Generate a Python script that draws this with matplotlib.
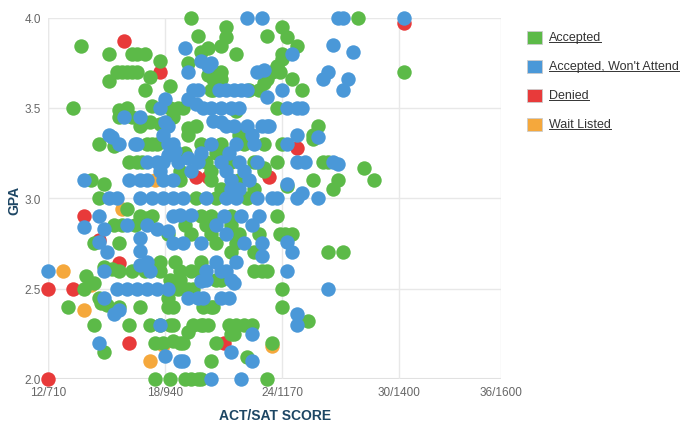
import matplotlib
matplotlib.use("Agg")
import matplotlib.pyplot as plt
from matplotlib.lines import Line2D
from matplotlib.patches import Rectangle

plt.rcParams['font.family'] = ['Liberation Sans', 'DejaVu Sans']

# ticks: ACT/SAT pairs, axis is linear in SAT
tick_sat = [710, 940, 1170, 1400, 1600]
tick_labels = ['12/710', '18/940', '24/1170', '30/1400', '36/1600']
gpa_ticks = [2.0, 2.5, 3.0, 3.5, 4.0]

legend_names = ['Accepted', "Accepted, Won't Attend", 'Denied', 'Wait Listed']

# (SAT, GPA)
accepted = [
    (990, 4.0), (1320, 4.0), (1060, 3.95), (1170, 3.95),
    (1005, 3.9), (1060, 3.89), (1140, 3.9), (1180, 3.89),
    (775, 3.84), (1050, 3.84), (1200, 3.84), (1025, 3.83), (1010, 3.81),
    (830, 3.8), (875, 3.8), (885, 3.8), (900, 3.8), (1080, 3.8), (1170, 3.8),
    (930, 3.76), (1170, 3.77), (985, 3.75),
    (845, 3.7), (855, 3.7), (865, 3.7), (875, 3.7), (885, 3.7), (1035, 3.7),
    (1050, 3.7), (1150, 3.7), (1165, 3.7), (1410, 3.7), (1160, 3.73),
    (910, 3.67), (1025, 3.68), (830, 3.65), (1050, 3.66), (1035, 3.66),
    (1140, 3.66), (1190, 3.66), (1135, 3.64), (950, 3.62),
    (900, 3.6), (1035, 3.6), (1030, 3.6), (1125, 3.6), (1210, 3.6), (1105, 3.6),
    (760, 3.5), (950, 3.5), (965, 3.5), (975, 3.5), (1160, 3.5), (915, 3.51),
    (850, 3.49), (865, 3.5), (1080, 3.48),
    (850, 3.45), (875, 3.45), (955, 3.45), (900, 3.42), (910, 3.42),
    (1240, 3.4), (985, 3.39), (1000, 3.4), (890, 3.4), (930, 3.41),
    (1230, 3.35), (985, 3.35), (1085, 3.35),
    (810, 3.3), (840, 3.29), (905, 3.3), (915, 3.3), (925, 3.3), (1170, 3.3),
    (1230, 3.33), (1010, 3.3), (1050, 3.3), (1095, 3.3), (1135, 3.3),
    (980, 3.25), (1040, 3.25),
    (870, 3.2), (885, 3.2), (895, 3.2), (1160, 3.2), (1250, 3.2), (1260, 3.2),
    (1330, 3.17), (1020, 3.2), (1115, 3.2), (1135, 3.17), (1070, 3.2),
    (970, 3.15), (1030, 3.15), (1135, 3.15),
    (795, 3.1), (820, 3.08), (1030, 3.1), (1230, 3.1), (1280, 3.1), (1350, 3.1),
    (1180, 3.07), (970, 3.1), (1085, 3.1),
    (1270, 3.05), (1050, 3.05), (1115, 3.05),
    (810, 3.0), (1000, 3.0), (1040, 3.0), (1100, 3.0), (865, 2.94),
    (890, 2.9), (905, 2.89), (915, 2.9), (1160, 2.9), (1010, 2.9), (1030, 2.9), (1070, 2.9),
    (840, 2.85), (855, 2.85), (880, 2.85), (980, 2.85), (1020, 2.85), (1070, 2.85),
    (1165, 2.8), (1175, 2.8), (1190, 2.8), (945, 2.8), (990, 2.8), (1030, 2.8),
    (1085, 2.8), (1125, 2.8),
    (800, 2.75), (850, 2.75), (1040, 2.75), (1080, 2.75),
    (1260, 2.7), (1290, 2.7), (1070, 2.7), (1115, 2.7),
    (835, 2.61), (820, 2.62), (930, 2.65), (960, 2.65), (1010, 2.65),
    (1115, 2.6), (1130, 2.6), (1140, 2.6), (850, 2.6), (875, 2.6), (900, 2.6),
    (930, 2.6), (970, 2.6), (990, 2.6), (1010, 2.6),
    (785, 2.57), (800, 2.53), (1040, 2.55), (1050, 2.55), (950, 2.55), (970, 2.55),
    (780, 2.5), (965, 2.5), (985, 2.5), (995, 2.5), (1170, 2.5),
    (810, 2.45), (815, 2.42), (825, 2.41), (945, 2.45), (890, 2.4),
    (750, 2.4), (1170, 2.4), (945, 2.4), (955, 2.4), (1015, 2.4), (1030, 2.4),
    (1035, 2.4), (850, 2.4),
    (800, 2.3), (870, 2.3), (910, 2.3), (930, 2.3), (950, 2.3), (955, 2.3),
    (995, 2.3), (1010, 2.3), (1015, 2.3), (1025, 2.3), (1065, 2.3), (1080, 2.3),
    (1095, 2.3), (1110, 2.3), (1220, 2.32),
    (1070, 2.25), (1075, 2.25), (985, 2.26),
    (920, 2.2), (935, 2.2), (970, 2.2), (975, 2.2), (955, 2.21), (1040, 2.2), (1150, 2.2),
    (820, 2.15), (1100, 2.12), (1030, 2.1),
    (920, 2.0), (950, 2.0), (980, 2.0), (990, 2.0), (1005, 2.0), (1140, 2.0), (1010, 2.0),
]

wont_attend = [
    (1100, 4.0), (1130, 4.0), (1280, 4.0), (1290, 4.0), (1410, 4.0),
    (1270, 3.85), (980, 3.83), (1310, 3.81), (1190, 3.8),
    (1010, 3.76), (1030, 3.75), (1025, 3.73),
    (985, 3.7), (1120, 3.7), (1135, 3.71), (1260, 3.7),
    (1250, 3.66), (1300, 3.66),
    (1170, 3.6), (1290, 3.6), (1060, 3.6), (1075, 3.6), (1090, 3.6), (1100, 3.6),
    (1005, 3.6), (1045, 3.6), (995, 3.6),
    (940, 3.55), (1140, 3.56), (985, 3.55),
    (930, 3.5), (1015, 3.5), (1030, 3.5), (1050, 3.5), (1070, 3.5), (1085, 3.5),
    (1180, 3.5), (1200, 3.5), (1210, 3.5), (1000, 3.52),
    (860, 3.45), (890, 3.45), (1035, 3.43), (1050, 3.42), (940, 3.42),
    (1060, 3.4), (1075, 3.4), (1100, 3.4), (1130, 3.4), (1140, 3.4), (1145, 3.4), (945, 3.4),
    (830, 3.35), (835, 3.34), (1200, 3.35), (1240, 3.34), (935, 3.35), (1110, 3.35),
    (850, 3.3), (880, 3.3), (885, 3.3), (945, 3.3), (955, 3.3), (1180, 3.3),
    (1030, 3.3), (1080, 3.3), (1115, 3.3),
    (960, 3.26), (945, 3.24), (1010, 3.25), (1065, 3.25),
    (905, 3.2), (925, 3.2), (935, 3.2), (965, 3.2), (985, 3.22), (1005, 3.2),
    (1200, 3.2), (1215, 3.2), (1270, 3.2), (1280, 3.19), (1050, 3.2), (1085, 3.2), (1120, 3.2),
    (930, 3.15), (990, 3.15), (1060, 3.15), (1095, 3.15),
    (780, 3.1), (870, 3.1), (890, 3.1), (905, 3.1), (935, 3.1), (955, 3.1),
    (1180, 3.08), (1070, 3.1), (1105, 3.1),
    (1210, 3.03), (1070, 3.05), (1085, 3.05),
    (830, 3.0), (845, 3.0), (890, 3.0), (915, 3.0), (935, 3.0), (955, 3.0), (975, 3.0),
    (1200, 3.0), (1240, 3.0), (1150, 3.0), (1160, 3.0), (1020, 3.0), (1060, 3.0),
    (1080, 3.0), (1120, 3.0),
    (810, 2.9), (1090, 2.9), (1125, 2.9), (955, 2.9), (970, 2.91), (990, 2.91), (1055, 2.9),
    (780, 2.84), (820, 2.83), (865, 2.85), (905, 2.85), (925, 2.83), (945, 2.82),
    (1040, 2.85), (1110, 2.85),
    (890, 2.78), (1180, 2.76), (1060, 2.8),
    (955, 2.75), (975, 2.75), (1130, 2.75), (1010, 2.75), (1095, 2.75), (890, 2.71),
    (1190, 2.7), (1130, 2.68), (810, 2.76), (825, 2.7),
    (820, 2.6), (890, 2.63), (905, 2.65), (1040, 2.65), (1080, 2.65),
    (710, 2.6), (1180, 2.6), (1060, 2.6), (1050, 2.6), (1020, 2.6), (910, 2.6),
    (1070, 2.55), (1075, 2.53), (1020, 2.55), (1010, 2.54),
    (845, 2.5), (865, 2.5), (885, 2.5), (905, 2.5), (925, 2.5), (945, 2.5), (1260, 2.5),
    (820, 2.45), (985, 2.45), (1005, 2.45), (1015, 2.45), (1050, 2.45), (1065, 2.45),
    (1200, 2.36), (840, 2.36), (850, 2.38),
    (1200, 2.3), (930, 2.3), (1110, 2.25), (810, 2.2),
    (1070, 2.15), (940, 2.13), (1110, 2.1), (975, 2.1), (970, 2.1),
    (1030, 2.0), (1090, 2.0),
]

denied = [
    (1410, 3.97), (860, 3.87), (930, 3.7), (1200, 3.28),
    (1000, 3.12), (1025, 3.12), (1145, 3.12),
    (780, 2.9), (810, 2.77), (850, 2.64),
    (710, 2.5), (760, 2.5), (870, 2.2), (1055, 2.2), (710, 2.0),
]

wait_listed = [
    (920, 3.1), (855, 2.94), (740, 2.6), (795, 2.52), (780, 2.38),
    (935, 2.19), (1150, 2.18), (910, 2.1),
]

colors = ['#5cba48', '#4a98d8', '#e83a3a', '#f5a83c']

fig = plt.figure(figsize=(6.8, 4.31), dpi=100)
ax = fig.add_axes([48 / 680, 1 - 380 / 431, (501 - 48) / 680, (380 - 18.5) / 431])

# later series lower in the stack
series = [(wait_listed, colors[3], 1), (denied, colors[2], 2),
          (accepted, colors[0], 3), (wont_attend, colors[1], 4)]
for pts, col, z in series:
    xs = [p[0] for p in pts]
    ys = [p[1] for p in pts]
    ax.scatter(xs, ys, s=108, c=col, linewidths=0, zorder=z, clip_on=False)

ax.set_xlim(710, 1600)
ax.set_ylim(2.0, 4.0)
ax.set_xticks(tick_sat)
ax.set_xticklabels(tick_labels)
ax.set_yticks(gpa_ticks)
ax.set_yticklabels(['%.1f' % v for v in gpa_ticks])
ax.tick_params(length=0, labelsize=8.5, labelcolor='#666666')
ax.tick_params(axis='y', pad=5)
ax.tick_params(axis='x', pad=5)
ax.grid(True, color='#e8e8e8', linewidth=1)
ax.set_axisbelow(True)
for sp in ax.spines.values():
    sp.set_visible(False)
ax.axhline(2.0, color='#e0e0e0', linewidth=1.5, zorder=0)
ax.axvline(710, color='#e8e8e8', linewidth=1, zorder=0)

fig.text(275 / 680, 1 - 416 / 431, 'ACT/SAT SCORE', fontsize=10, fontweight='bold',
         color='#1d4664', ha='center', va='center')
fig.text(14 / 680, 1 - 200 / 431, 'GPA', fontsize=10, fontweight='bold',
         color='#1d4664', ha='center', va='center', rotation=90)

# legend on the right with underlined names
fig.canvas.draw()
renderer = fig.canvas.get_renderer()
y_px = [38, 67, 96, 125]
for name, col, yp in zip(legend_names, colors, y_px):
    fy = 1 - yp / 431
    fig.patches.append(Rectangle((527 / 680, fy - 7 / 431), 15 / 680, 13 / 431,
                                 transform=fig.transFigure, facecolor=col,
                                 edgecolor='#cccccc', linewidth=0.6))
    t = fig.text(549 / 680, fy, name, fontsize=9, color='#333333', va='center', ha='left')
    bb = t.get_window_extent(renderer)
    x0, y0 = fig.transFigure.inverted().transform((bb.x0, bb.y0))
    x1, _ = fig.transFigure.inverted().transform((bb.x1, bb.y0))
    fig.lines.append(Line2D([x0, x1], [y0 + 1 / 431, y0 + 1 / 431], transform=fig.transFigure,
                            color='#333333', linewidth=0.7))

fig.savefig('out.png', dpi=100)
